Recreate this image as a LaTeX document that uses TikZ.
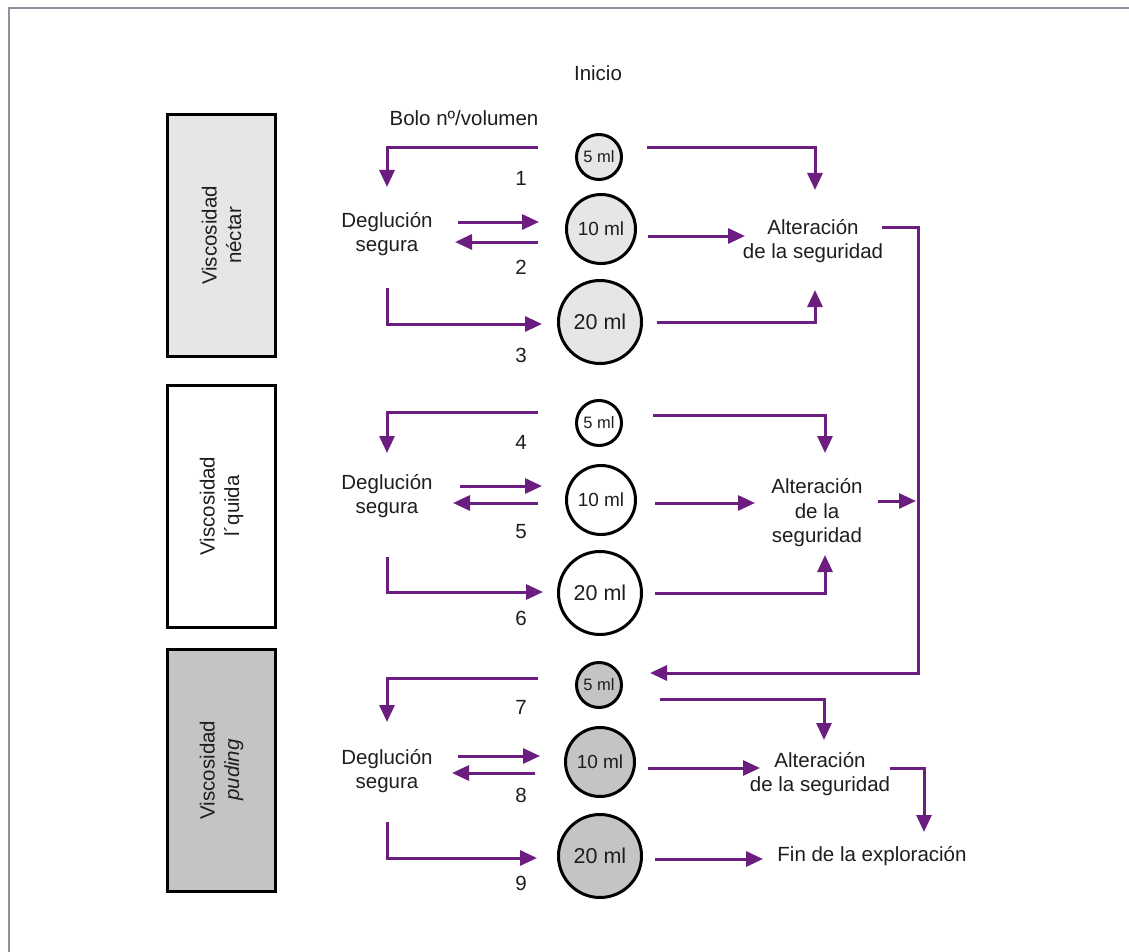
\documentclass[tikz,border=0pt]{standalone}
\usepackage{fontspec}
\setmainfont{Liberation Sans}
\usetikzlibrary{arrows.meta}
\definecolor{purp}{RGB}{108,30,128}
\definecolor{framec}{RGB}{150,140,158}
\definecolor{gA}{RGB}{230,230,230}
\definecolor{gC}{RGB}{196,196,196}
\definecolor{ink}{RGB}{30,30,30}
\tikzset{
  txt/.style={font=\fontsize{20.5}{24.5}\selectfont, text=ink, align=center, inner sep=0pt},
  arr/.style={draw=purp, line width=3pt, -{Triangle[length=17pt,width=15pt]}},
  vbox/.style={draw=black, line width=3pt, minimum width=108pt, minimum height=242pt, inner sep=0pt},
  vtxt/.style={txt, rotate=90},
  bol/.style={circle, draw=black, line width=3pt, inner sep=0pt, text=ink},
  small/.style={bol, minimum size=45pt, font=\fontsize{16.5}{18}\selectfont},
  mid/.style={bol, minimum size=69pt, font=\fontsize{19}{21}\selectfont},
  big/.style={bol, minimum size=83pt, font=\fontsize{21.5}{24}\selectfont},
}
\begin{document}
\begin{tikzpicture}[x=1pt,y=-1pt]
\useasboundingbox[fill=white] (0,0) rectangle (1129,952);
\draw[framec, line width=2.5pt] (9,952) -- (9,8) -- (1129,8);

% headers
\node[txt] (inicio) at (598,73) {Inicio};
\node[txt] (bolo) at (464,118) {Bolo nº/volumen};

% side boxes
\node[vbox, fill=gA] (vb1) at (221.5,235.5) {};
\node[vbox, fill=white] (vb2) at (221.5,506) {};
\node[vbox, fill=gC] (vb3) at (221.5,770) {};
\node[vtxt] (vt1) at (vb1.center) {Viscosidad\\néctar};
\node[vtxt] (vt2) at (vb2.center) {Viscosidad\\l´quida};
\node[vtxt] (vt3) at (vb3.center) {Viscosidad\\\textit{puding}};

% circles
\node[small, fill=gA] (c1a) at (599,157) {5 ml};
\node[mid, fill=gA] (c1b) at (601,229) {10 ml};
\node[big, fill=gA] (c1c) at (600,322) {20 ml};
\node[small, fill=white] (c2a) at (599,423) {5 ml};
\node[mid, fill=white] (c2b) at (601,500) {10 ml};
\node[big, fill=white] (c2c) at (600,593) {20 ml};
\node[small, fill=gC] (c3a) at (599,685) {5 ml};
\node[mid, fill=gC] (c3b) at (600,762) {10 ml};
\node[big, fill=gC] (c3c) at (600,856) {20 ml};

% deglucion
\node[txt] (d1) at (387,234) {Deglución\\segura};
\node[txt] (d2) at (387,496) {Deglución\\segura};
\node[txt] (d3) at (387,771) {Deglución\\segura};

% alteracion
\node[txt] (a1) at (813,241) {Alteración\\de la seguridad};
\node[txt] (a2) at (817,513) {Alteración\\de la\\seguridad};
\node[txt] (a3) at (820,774) {Alteración\\de la seguridad};
\node[txt] (fin) at (872,856) {Fin de la exploración};

% numbers
\node[txt] (n1) at (521,178) {1};
\node[txt] (n2) at (521,267) {2};
\node[txt] (n3) at (521,355) {3};
\node[txt] (n4) at (521,442) {4};
\node[txt] (n5) at (521,532) {5};
\node[txt] (n6) at (521,618) {6};
\node[txt] (n7) at (521,707) {7};
\node[txt] (n8) at (521,795) {8};
\node[txt] (n9) at (521,883) {9};

% connector end points
\coordinate (p1s) at (538,148);  \coordinate (p1e) at (387,187);
\coordinate (p2rs) at (458,222); \coordinate (p2re) at (539,222);
\coordinate (p2ls) at (538,242); \coordinate (p2le) at (455,242);
\coordinate (p3s) at (387,288);  \coordinate (p3e) at (542,324);
\coordinate (q1s) at (647,148);  \coordinate (q1e) at (815,190);
\coordinate (q2s) at (648,236);  \coordinate (q2e) at (745,236);
\coordinate (q3s) at (657,322);  \coordinate (q3e) at (815,290);
\coordinate (o1s) at (882,227);  \coordinate (o1c) at (918,673); \coordinate (o1e) at (650,673);

\coordinate (p4s) at (538,412);  \coordinate (p4e) at (387,453);
\coordinate (p5rs) at (460,486); \coordinate (p5re) at (542,486);
\coordinate (p5ls) at (538,503); \coordinate (p5le) at (453,503);
\coordinate (p6s) at (387,557);  \coordinate (p6e) at (543,592);
\coordinate (q4s) at (653,415);  \coordinate (q4e) at (825,453);
\coordinate (q5s) at (655,503);  \coordinate (q5e) at (755,503);
\coordinate (q6s) at (655,593);  \coordinate (q6e) at (825,555);
\coordinate (o2s) at (878,501);  \coordinate (o2e) at (916,501);

\coordinate (p7s) at (538,678);  \coordinate (p7e) at (387,722);
\coordinate (p8rs) at (458,756); \coordinate (p8re) at (540,756);
\coordinate (p8ls) at (535,773); \coordinate (p8le) at (452,773);
\coordinate (p9s) at (387,822);  \coordinate (p9e) at (537,858);
\coordinate (q7s) at (660,699);  \coordinate (q7e) at (824,740);
\coordinate (q8s) at (648,768);  \coordinate (q8e) at (760,768);
\coordinate (o3s) at (890,768);  \coordinate (o3e) at (924,832);
\coordinate (q9s) at (655,859);  \coordinate (q9e) at (763,859);

% section 1
\draw[arr] (p1s) -| (p1e);
\draw[arr] (p2rs) -- (p2re);
\draw[arr] (p2ls) -- (p2le);
\draw[arr] (p3s) |- (p3e);
\draw[arr] (q1s) -| (q1e);
\draw[arr] (q2s) -- (q2e);
\draw[arr] (q3s) -| (q3e);
\draw[arr] (o1s) -| (o1c) -- (o1e);
% section 2
\draw[arr] (p4s) -| (p4e);
\draw[arr] (p5rs) -- (p5re);
\draw[arr] (p5ls) -- (p5le);
\draw[arr] (p6s) |- (p6e);
\draw[arr] (q4s) -| (q4e);
\draw[arr] (q5s) -- (q5e);
\draw[arr] (q6s) -| (q6e);
\draw[arr] (o2s) -- (o2e);
% section 3
\draw[arr] (p7s) -| (p7e);
\draw[arr] (p8rs) -- (p8re);
\draw[arr] (p8ls) -- (p8le);
\draw[arr] (p9s) |- (p9e);
\draw[arr] (q7s) -| (q7e);
\draw[arr] (q8s) -- (q8e);
\draw[arr] (o3s) -| (o3e);
\draw[arr] (q9s) -- (q9e);
\end{tikzpicture}
\end{document}
